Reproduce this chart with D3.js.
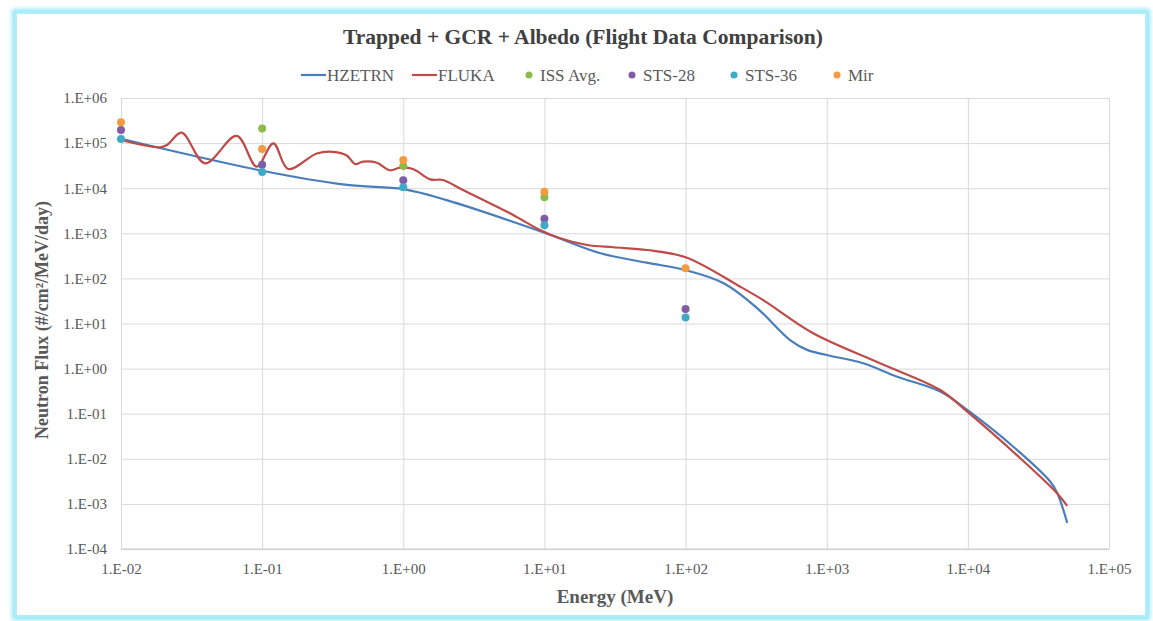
<!DOCTYPE html>
<html><head><meta charset="utf-8">
<script src="https://cdn.jsdelivr.net/npm/d3@7"></script>
<style>body{margin:0;background:#fff;} svg{display:block;}</style>
</head><body>
<svg id="c" width="1153" height="621"></svg>
<script>
// ---- data ----
const hzetrnE = [0.01, 0.1, 0.4, 1.0, 2.0, 10, 25, 53, 100, 185, 321, 550, 727, 1000, 1815, 3160, 6370, 9900, 21000, 38400, 43000, 50600];
const hzetrnF = [1.25e5, 2.44e4, 1.18e4, 9.5e3, 5.5e3, 1.03e3, 360, 223, 153, 79, 22, 4.3, 2.6, 2.0, 1.31, 0.66, 0.31, 0.121, 0.0185, 3.1e-3, 1.75e-3, 3.8e-4];
const flukaE = [0.01, 0.0189, 0.0212, 0.0269, 0.0394, 0.066, 0.0916, 0.12, 0.153, 0.244, 0.318, 0.398, 0.455, 0.519, 0.649, 0.805, 0.949, 1.17, 1.55, 1.91, 2.65, 6.0, 9.3, 12.9, 20.1, 30.7, 53.5, 100, 244, 355, 802, 2390, 6370, 9900, 23500, 43000, 50600];
const flukaF = [1.17e5, 8.07e4, 9.1e4, 1.7e5, 3.56e4, 1.44e5, 3.0e4, 9.9e4, 2.67e4, 5.9e4, 6.4e4, 5.3e4, 3.44e4, 3.87e4, 3.67e4, 2.5e4, 2.85e4, 2.67e4, 1.57e4, 1.52e4, 9.1e3, 2.55e3, 1.18e3, 774, 550, 490, 427, 294, 65.5, 33, 6.07, 1.31, 0.335, 0.111, 0.0103, 1.7e-3, 9e-4];
const issE = [0.1, 1, 10];
const issF = [2.1e5, 3.1e4, 6.3e3];
const sts28E = [0.01, 0.1, 1, 10, 100];
const sts28F = [1.95e5, 3.3e4, 1.5e4, 2.1e3, 21];
const sts36E = [0.01, 0.1, 1, 10, 100];
const sts36F = [1.24e5, 2.3e4, 1.05e4, 1.5e3, 13.6];
const mirE = [0.01, 0.1, 1, 10, 100];
const mirF = [2.9e5, 7.4e4, 4.2e4, 8.3e3, 168];
const xTicks = [1e-2, 1e-1, 1e0, 1e1, 1e2, 1e3, 1e4, 1e5];
const yTicks = [1e-4, 1e-3, 1e-2, 1e-1, 1e0, 1e1, 1e2, 1e3, 1e4, 1e5, 1e6];
const title = "Trapped + GCR + Albedo (Flight Data Comparison)";
const xTitle = "Energy (MeV)";
const yTitle = "Neutron Flux (#/cm²/MeV/day)";

// ---- drawing ----
const svg = d3.select("#c");
const font = "'Liberation Serif','Times New Roman',serif";
const L = 121, R = 1109, T = 98, B = 549;
const x = d3.scaleLog().domain([1e-2, 1e5]).range([L, R]);
const y = d3.scaleLog().domain([1e-4, 1e6]).range([B, T]);

// frame with cyan glow
const defs = svg.append("defs");
const f = defs.append("filter").attr("id", "glow").attr("x", "-5%").attr("y", "-5%").attr("width", "110%").attr("height", "110%");
f.append("feGaussianBlur").attr("stdDeviation", 2.2);
svg.append("rect").attr("x", 15).attr("y", 12).attr("width", 1132).attr("height", 605)
  .attr("fill", "none").attr("stroke", "#8fe6f5").attr("stroke-width", 6).attr("filter", "url(#glow)");
svg.append("rect").attr("x", 16).attr("y", 13).attr("width", 1130).attr("height", 603)
  .attr("fill", "#fff").attr("stroke", "#b3eef8").attr("stroke-width", 2);

const sup = (v) => {
  const e = Math.round(Math.log10(v));
  return "1.E" + (e < 0 ? "-" : "+") + String(Math.abs(e)).padStart(2, "0");
};

// gridlines
const gy = svg.append("g").attr("transform", `translate(${L},0)`)
  .call(d3.axisLeft(y).tickValues(yTicks).tickSize(-(R - L)).tickFormat(sup).tickPadding(14));
gy.select(".domain").remove();
gy.selectAll(".tick line").attr("stroke", "#d9d9d9").attr("stroke-width", 1);
gy.selectAll(".tick text").attr("font-family", font).attr("font-size", 15).attr("fill", "#595959");

const gx = svg.append("g").attr("transform", `translate(0,${B})`)
  .call(d3.axisBottom(x).tickValues(xTicks).tickSize(-(B - T)).tickFormat(sup).tickPadding(14));
gx.select(".domain").remove();
gx.selectAll(".tick line").attr("stroke", "#d9d9d9").attr("stroke-width", 1);
gx.selectAll(".tick text").attr("font-family", font).attr("font-size", 15).attr("fill", "#595959");
svg.append("line").attr("x1", L).attr("x2", R).attr("y1", B).attr("y2", B).attr("stroke", "#c8c8c8");

// lines
const line = d3.line().x(d => x(d[0])).y(d => y(d[1])).curve(d3.curveCatmullRom.alpha(0.5));
const series = [
  {E: hzetrnE, F: hzetrnF, c: "#4a7ebb"},
  {E: flukaE, F: flukaF, c: "#be4b48"}
];
series.forEach(s => {
  svg.append("path").datum(s.E.map((e, i) => [e, s.F[i]]))
    .attr("d", line).attr("fill", "none").attr("stroke", s.c).attr("stroke-width", 2.2);
});

// points
const pts = [
  {E: issE, F: issF, c: "#8cbb4c"},
  {E: sts28E, F: sts28F, c: "#7f5ca8"},
  {E: sts36E, F: sts36F, c: "#3eaac6"},
  {E: mirE, F: mirF, c: "#f59a3e"}
];
pts.forEach(s => {
  svg.append("g").selectAll("circle").data(s.E.map((e, i) => [e, s.F[i]])).join("circle")
    .attr("cx", d => x(d[0])).attr("cy", d => y(d[1])).attr("r", 4).attr("fill", s.c);
});

// title
svg.append("text").attr("x", 583).attr("y", 44).attr("text-anchor", "middle")
  .attr("font-family", font).attr("font-weight", "bold").attr("font-size", 21.5).attr("fill", "#404040").text(title);
// axis titles
svg.append("text").attr("x", 615).attr("y", 603).attr("text-anchor", "middle")
  .attr("font-family", font).attr("font-weight", "bold").attr("font-size", 19).attr("fill", "#595959").text(xTitle);
svg.append("text").attr("transform", "translate(48,320) rotate(-90)").attr("text-anchor", "middle")
  .attr("font-family", font).attr("font-weight", "bold").attr("font-size", 18).attr("fill", "#595959").text(yTitle);

// legend
const legend = [
  {name: "HZETRN", type: "line", c: "#4a7ebb", x: 301},
  {name: "FLUKA", type: "line", c: "#be4b48", x: 412},
  {name: "ISS Avg.", type: "dot", c: "#8cbb4c", x: 529},
  {name: "STS-28", type: "dot", c: "#7f5ca8", x: 632},
  {name: "STS-36", type: "dot", c: "#3eaac6", x: 734},
  {name: "Mir", type: "dot", c: "#f59a3e", x: 837}
];
const ly = 75;
legend.forEach(d => {
  if (d.type === "line") {
    svg.append("line").attr("x1", d.x).attr("x2", d.x + 25).attr("y1", ly).attr("y2", ly).attr("stroke", d.c).attr("stroke-width", 2.2);
    svg.append("text").attr("x", d.x + 26).attr("y", ly + 5.5).attr("font-family", font).attr("font-size", 17).attr("fill", "#595959").text(d.name);
  } else {
    svg.append("circle").attr("cx", d.x).attr("cy", ly).attr("r", 3.5).attr("fill", d.c);
    svg.append("text").attr("x", d.x + 11).attr("y", ly + 5.5).attr("font-family", font).attr("font-size", 17).attr("fill", "#595959").text(d.name);
  }
});
</script>
</body></html>
